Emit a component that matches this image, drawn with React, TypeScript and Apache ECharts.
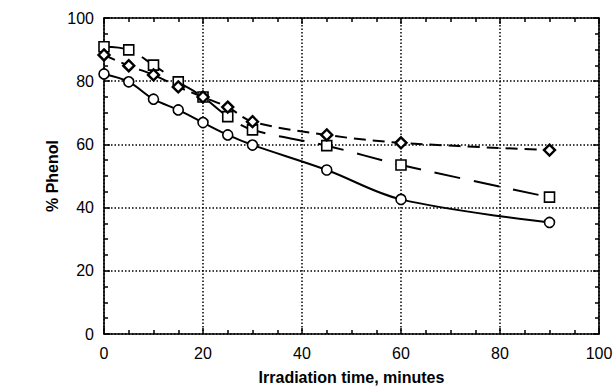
import React, { useEffect, useRef } from "react";
import * as echarts from "echarts";

const times = [0, 5, 10, 15, 20, 25, 30, 45, 60, 90];
const circleSeries = [82.3, 79.8, 74.3, 70.9, 66.9, 63, 59.8, 51.9, 42.6, 35.3];
const squareSeries = [90.9, 89.9, 85.1, 79.8, 75, 68.8, 64.6, 59.6, 53.5, 43.3];
const diamondSeries = [88.3, 84.9, 82, 78.2, 75, 71.8, 67.2, 63, 60.5, 58.2];
const xTicks = [0, 20, 40, 60, 80, 100];
const yTicks = [0, 20, 40, 60, 80, 100];

const FONT = "'Liberation Sans', Arial, Helvetica, sans-serif";

export default function App() {
  const ref = useRef<HTMLDivElement>(null);
  useEffect(() => {
    if (!ref.current) return;
    const chart = echarts.init(ref.current, undefined, { renderer: "svg" });
    const pair = (ys: number[]) => times.map((t, i) => [t, ys[i]]);
    const axisLine = { show: true, onZero: false, lineStyle: { color: "#000", width: 1.6 } };
    const tick = { show: true, inside: true, length: 6, lineStyle: { color: "#000", width: 1.5 } };
    const minor = { show: true, splitNumber: 4, length: 4, lineStyle: { color: "#000", width: 1.5 } };
    const grid = { show: true, lineStyle: { color: "#000", type: [1.5, 2] as any, width: 1.5 } };
    const mkSeries = (name: string, ys: number[], symbol: string, size: number, bw: number, lt: any) => ({
      name,
      type: "line",
      data: pair(ys),
      smooth: 0.35,
      symbol,
      symbolSize: size,
      showAllSymbol: true,
      itemStyle: { color: "#fff", borderColor: "#000", borderWidth: bw },
      lineStyle: { color: "#000", width: 2, type: lt },
      z: 3,
    });
    chart.setOption({
      animation: false,
      backgroundColor: "#fff",
      grid: { left: 104, right: 17, top: 18, bottom: 54, outerBoundsMode: "none" },
      xAxis: [
        {
          type: "value",
          min: 0,
          max: 100,
          interval: 20,
          position: "bottom",
          axisLine,
          axisTick: tick,
          minorTick: minor,
          splitLine: grid,
          axisLabel: {
            color: "#000",
            fontFamily: FONT,
            fontSize: 16,
            margin: 11,
            formatter: (v: number) => (xTicks.includes(v) ? String(v) : ""),
          },
          name: "Irradiation time, minutes",
          nameLocation: "middle",
          nameGap: 35,
          nameMoveOverlap: false,
          nameTextStyle: { color: "#000", fontFamily: FONT, fontSize: 16, fontWeight: "bold" },
        },
        {
          type: "value",
          min: 0,
          max: 100,
          interval: 20,
          position: "top",
          axisLine,
          axisTick: tick,
          minorTick: minor,
          splitLine: { show: false },
          axisLabel: { show: false },
        },
      ],
      yAxis: [
        {
          type: "value",
          min: 0,
          max: 100,
          interval: 20,
          position: "left",
          axisLine,
          axisTick: tick,
          minorTick: minor,
          splitLine: grid,
          axisLabel: {
            color: "#000",
            fontFamily: FONT,
            fontSize: 16,
            margin: 10,
            formatter: (v: number) => (yTicks.includes(v) ? String(v) : ""),
          },
          name: "% Phenol",
          nameLocation: "middle",
          nameGap: 44,
          nameMoveOverlap: false,
          nameTextStyle: { color: "#000", fontFamily: FONT, fontSize: 16, fontWeight: "bold" },
        },
        {
          type: "value",
          min: 0,
          max: 100,
          interval: 20,
          position: "right",
          axisLine,
          axisTick: tick,
          minorTick: minor,
          splitLine: { show: false },
          axisLabel: { show: false },
        },
      ],
      series: [
        mkSeries("circles", circleSeries, "circle", 10, 1.6, "solid"),
        mkSeries("squares", squareSeries, "rect", 10, 1.6, [26, 14]),
        mkSeries("diamonds", diamondSeries, "diamond", 11, 2.4, [12, 7]),
      ],
    });
    return () => chart.dispose();
  }, []);
  return <div ref={ref} style={{ width: 616, height: 388, position: "absolute", left: 0, top: 0 }} />;
}
